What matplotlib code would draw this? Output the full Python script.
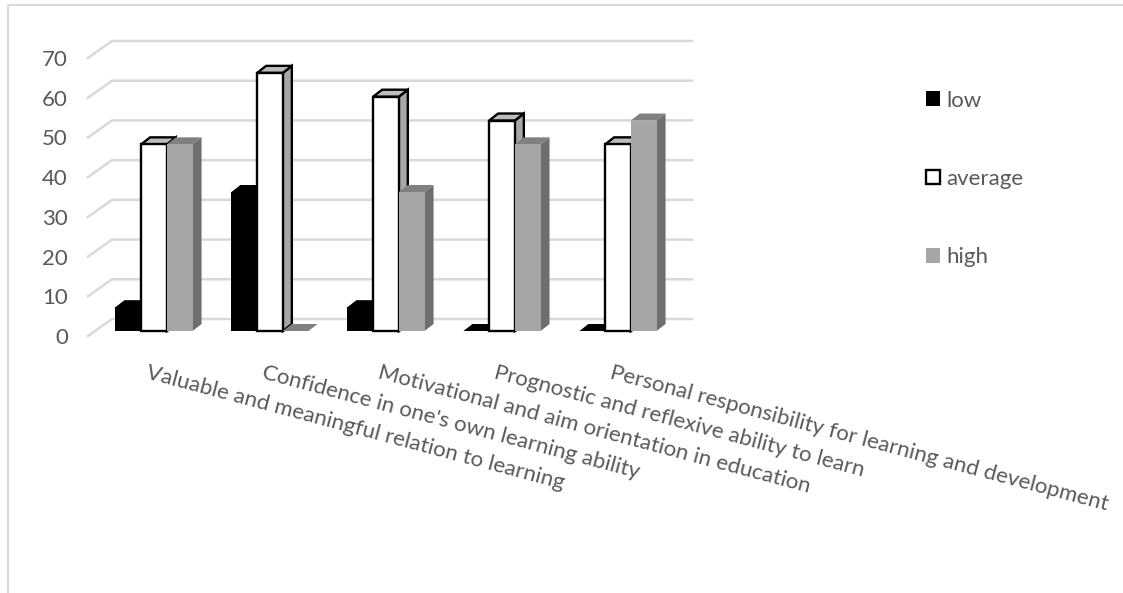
import matplotlib
matplotlib.use('Agg')
import matplotlib.pyplot as plt
from matplotlib.lines import Line2D
from matplotlib.patches import Patch

plt.rcParams['font.family'] = ['Lato', 'DejaVu Sans']

categories = ["Valuable and meaningful relation to learning",
              "Confidence in one's own learning ability",
              "Motivational and aim orientation in education",
              "Prognostic and reflexive ability to learn",
              "Personal responsibility for learning and development"]
low = [6, 35, 6, 0, 0]
average = [47, 65, 59, 53, 47]
high = [47, 0, 35, 47, 53]
y_ticks = [0, 10, 20, 30, 40, 50, 60, 70]

W, H = 1123, 593
TEXT = '#595959'
GRID = '#d9d9d9'

fig = plt.figure(figsize=(W / 100, H / 100), dpi=100)
# axes box = front plane of the fake 3d chart
ax = fig.add_axes([88 / W, 1 - 336 / H, 604 / W, 278 / H])
ax.set_xlim(-0.569, 4.638)
ax.set_ylim(0, 70)
for s in ax.spines.values():
    s.set_visible(False)
ax.set_xticks([])
ax.set_yticks(y_ticks)
ax.tick_params(axis='y', length=0, pad=14.5, labelsize=16, labelcolor=TEXT)

px_x = 1 / 116          # category units per pixel
px_y = 70 / 278         # value units per pixel
grid_dx, grid_dy = 24 * px_x, 17 * px_y
bar_w = 25.7 * px_x
dep_x, dep_y = 9 * px_x, 7 * px_y
lift = 5 * px_y

# gridlines with the slanted part on the left wall
for v in y_ticks:
    ax.plot([-0.569, -0.569 + grid_dx, 4.638], [v, v + grid_dy, v + grid_dy],
            color=GRID, lw=1.8, clip_on=False, zorder=1)


def bar3d(x, v, front, side, top, edge=None, lw=0):
    x0, x1 = x - bar_w / 2, x + bar_w / 2
    y0, y1 = lift, lift + v
    ec = edge if edge else 'none'
    ax.fill([x1, x1 + dep_x, x1 + dep_x, x1], [y0, y0 + dep_y, y1 + dep_y, y1],
            fc=side, ec=ec, lw=lw, clip_on=False, zorder=3)
    ax.fill([x0, x0 + dep_x, x1 + dep_x, x1], [y1, y1 + dep_y, y1 + dep_y, y1],
            fc=top, ec=ec, lw=lw, clip_on=False, zorder=3)
    if v > 0:
        ax.bar(x, v, bar_w, bottom=lift, color=front, edgecolor=ec, linewidth=lw,
               clip_on=False, zorder=3)


for i in range(len(categories)):
    bar3d(i - bar_w, low[i], 'black', 'black', 'black')
    bar3d(i, average[i], 'white', '#a6a6a6', '#bdbdbd', edge='black', lw=1.7)
    bar3d(i + bar_w, high[i], '#a6a6a6', '#6e6e6e', '#808080')
    ax.annotate(categories[i], (i, 0), xytext=(-5, -27), textcoords='offset pixels',
                rotation=-14.9, rotation_mode='anchor', ha='left', va='top',
                fontsize=16, color=TEXT, annotation_clip=False)

handles = [Patch(fc='black', ec='black', lw=0),
           Patch(fc='white', ec='black', lw=1.7),
           Patch(fc='#a6a6a6', ec='#a6a6a6', lw=0)]
fig.legend(handles, ['low', 'average', 'high'], loc='center left',
           bbox_to_anchor=(906 / W, 1 - 179 / H), frameon=False, fontsize=16,
           labelcolor=TEXT, handlelength=0.63, handleheight=0.63, handletextpad=0.3,
           labelspacing=2.63)

# outer frame of the pasted chart, only top and left show
fig.add_artist(Line2D([8 / W, 8 / W, 1], [0, 1 - 5 / H, 1 - 5 / H], color=GRID, lw=1.5))

fig.savefig('out.png', dpi=100)
